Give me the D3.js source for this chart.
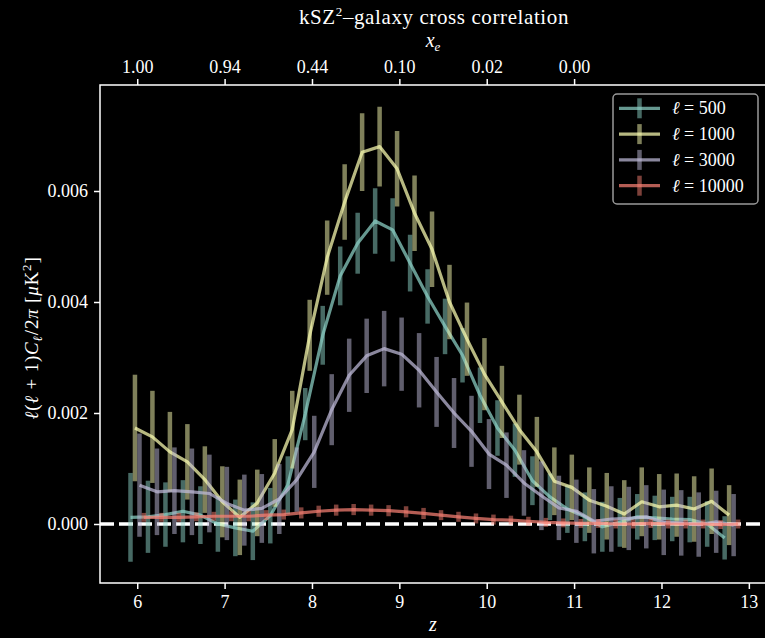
<!DOCTYPE html>
<html><head><meta charset="utf-8">
<script src="https://cdn.jsdelivr.net/npm/d3@7"></script>
<style>
html,body{margin:0;padding:0;background:#000;}
svg{display:block;}
text{font-family:"Liberation Serif","DejaVu Serif",serif;fill:#fff;}
</style></head><body>
<svg id="c" width="765" height="638"></svg>
<script>
// ---- data ----
const zCenters = d3.range(35).map(i => +(6 + 0.2 * i).toFixed(1));
const seriesNames = ["ℓ = 500", "ℓ = 1000", "ℓ = 3000", "ℓ = 10000"];
const seriesOffsets = [-0.077, -0.026, 0.026, 0.077];
const seriesColors = ["#8dd3c7", "#feffb3", "#bfbbd9", "#fa8174"];

const val500 = [0.00012,0.00013,0.00017,0.00023,0.00016,0.00000,-0.00007,-0.00013,0.00015,0.00070,
  0.00198,0.00340,0.00447,0.00506,0.00546,0.00530,0.00470,0.00410,0.00356,0.00304,
  0.00232,0.00173,0.00133,0.00078,0.00049,0.00027,0.00013,-0.00005,0.00003,0.00013,
  0.00011,0.00009,0.00008,0.00000,-0.00025];
const err500 = [0.00080,0.00065,0.00058,0.00056,0.00052,0.00050,0.00051,0.00052,0.00050,0.00052,
  0.00047,0.00053,0.00053,0.00055,0.00059,0.00057,0.00051,0.00049,0.00050,0.00049,
  0.00050,0.00050,0.00048,0.00044,0.00042,0.00043,0.00044,0.00045,0.00044,0.00041,
  0.00040,0.00040,0.00041,0.00041,0.00039];

const val1000 = [0.00173,0.00157,0.00130,0.00112,0.00080,0.00040,0.00012,0.00038,0.00092,0.00170,
  0.00340,0.00480,0.00580,0.00670,0.00680,0.00640,0.00560,0.00495,0.00400,0.00333,
  0.00270,0.00220,0.00170,0.00130,0.00077,0.00066,0.00043,0.00032,0.00018,0.00040,
  0.00031,0.00034,0.00027,0.00041,0.00016];
const err1000 = [0.00096,0.00083,0.00072,0.00068,0.00060,0.00064,0.00068,0.00060,0.00061,0.00070,
  0.00064,0.00067,0.00068,0.00070,0.00072,0.00068,0.00068,0.00068,0.00067,0.00066,
  0.00065,0.00065,0.00063,0.00063,0.00061,0.00059,0.00059,0.00060,0.00061,0.00062,
  0.00059,0.00057,0.00059,0.00059,0.00054];

const val3000 = [0.00070,0.00058,0.00060,0.00058,0.00055,0.00037,0.00025,0.00028,0.00045,0.00080,
  0.00130,0.00206,0.00268,0.00303,0.00316,0.00306,0.00277,0.00238,0.00200,0.00167,
  0.00126,0.00106,0.00074,0.00051,0.00029,0.00023,0.00005,0.00009,0.00010,0.00013,
  0.00003,0.00002,-0.00001,0.00004,-0.00002];
const err3000 = [0.00093,0.00078,0.00078,0.00078,0.00070,0.00066,0.00064,0.00062,0.00063,0.00058,
  0.00065,0.00064,0.00066,0.00067,0.00068,0.00066,0.00067,0.00063,0.00063,0.00064,
  0.00063,0.00059,0.00059,0.00062,0.00058,0.00057,0.00058,0.00059,0.00057,0.00057,
  0.00059,0.00059,0.00058,0.00056,0.00056];

const val10000 = [0.00012,0.00012,0.00012,0.00013,0.00014,0.00014,0.00014,0.00016,0.00017,0.00020,
  0.00023,0.00025,0.00026,0.00025,0.00024,0.00022,0.00019,0.00016,0.00013,0.00010,
  0.00008,0.00007,0.00005,0.00003,0.00002,0.00001,0.00001,0.00000,0.00000,0.00001,
  0.00000,0.00000,0.00000,-0.00001,0.00000];
const err10000 = [0.00008,0.00008,0.00008,0.00008,0.00008,0.00009,0.00009,0.00009,0.00009,0.00010,
  0.00010,0.00010,0.00010,0.00010,0.00010,0.00010,0.00010,0.00009,0.00009,0.00009,
  0.00009,0.00008,0.00008,0.00008,0.00008,0.00008,0.00008,0.00008,0.00008,0.00008,
  0.00008,0.00008,0.00008,0.00008,0.00008];

const yTicks = [0.000, 0.002, 0.004, 0.006];
const xTicks = [6, 7, 8, 9, 10, 11, 12, 13];
const topTicks = [6, 7, 8, 9, 10, 11];
const topLabels = ["1.00", "0.94", "0.44", "0.10", "0.02", "0.00"];

const allVals = [val500, val1000, val3000, val10000];
const allErrs = [err500, err1000, err3000, err10000];

// ---- layout ----
const svg = d3.select("#c");
const L = 100, R = 768.6, T = 85, B = 583;
const x = d3.scaleLinear().domain([5.574, 13.226]).range([L, R]);
const y = d3.scaleLinear().domain([-0.001063, 0.00791]).range([B, T]);

svg.append("rect").attr("width", 765).attr("height", 638).attr("fill", "#000");

svg.append("clipPath").attr("id", "pc").append("rect")
  .attr("x", L).attr("y", T).attr("width", R - L).attr("height", B - T);
const plot = svg.append("g").attr("clip-path", "url(#pc)");

// zero line
plot.append("line").attr("x1", L).attr("x2", R).attr("y1", y(0)).attr("y2", y(0))
  .attr("stroke", "#fff").attr("stroke-width", 3.5).attr("stroke-dasharray", "14,5");

const barAlpha = 0.5, lineAlpha = 0.72;
allVals.forEach((vals, s) => {
  const g = plot.append("g");
  const pts = zCenters.map((z, i) => ({z: z + seriesOffsets[s], v: vals[i], e: allErrs[s][i]}));
  g.selectAll("line.eb").data(pts).join("line").attr("class", "eb")
    .attr("x1", d => x(d.z)).attr("x2", d => x(d.z))
    .attr("y1", d => y(d.v - d.e)).attr("y2", d => y(d.v + d.e))
    .attr("stroke", seriesColors[s]).attr("stroke-opacity", barAlpha).attr("stroke-width", 4.5);
  g.append("path").datum(pts)
    .attr("d", d3.line().x(d => x(d.z)).y(d => y(d.v)))
    .attr("fill", "none").attr("stroke", seriesColors[s]).attr("stroke-opacity", lineAlpha)
    .attr("stroke-width", 3.2).attr("stroke-linejoin", "round");
});

// frame
svg.append("path").attr("d", `M${R},${T}H${L}V${B}H${R}`)
  .attr("fill", "none").attr("stroke", "#fff").attr("stroke-width", 1.5);

// axes
const fs = 18;
const xAxis = svg.append("g").attr("transform", `translate(0,${B})`)
  .call(d3.axisBottom(x).tickValues(xTicks).tickFormat(d3.format("d")).tickSize(6).tickPadding(6));
const yAxis = svg.append("g").attr("transform", `translate(${L},0)`)
  .call(d3.axisLeft(y).tickValues(yTicks).tickFormat(d3.format(".3f")).tickSize(6).tickPadding(6));
const tAxis = svg.append("g").attr("transform", `translate(0,${T})`)
  .call(d3.axisTop(x).tickValues(topTicks).tickFormat((d, i) => topLabels[i]).tickSize(6).tickPadding(6));
[xAxis, yAxis, tAxis].forEach(a => {
  a.select(".domain").remove();
  a.selectAll(".tick line").attr("stroke", "#fff").attr("stroke-width", 1.5);
  a.selectAll(".tick text").attr("fill", "#fff").attr("font-size", fs)
    .style("font-family", '"Liberation Serif", serif');
});

// labels
svg.append("text").attr("x", 434).attr("y", 24).attr("text-anchor", "middle").attr("font-size", 21)
  .attr("letter-spacing", 0.6)
  .html('kSZ<tspan dy="-8" font-size="13">2</tspan><tspan dy="8">–galaxy cross correlation</tspan>');
svg.append("text").attr("x", 433).attr("y", 47).attr("text-anchor", "middle").attr("font-size", 20)
  .html('<tspan font-style="italic">x</tspan><tspan dy="4" font-size="13" font-style="italic">e</tspan>');
svg.append("text").attr("x", 433).attr("y", 631).attr("text-anchor", "middle").attr("font-size", 20)
  .attr("font-style", "italic").text("z");
svg.append("text").attr("transform", "translate(38,338) rotate(-90)").attr("text-anchor", "middle").attr("font-size", 19)
  .attr("letter-spacing", 0.8)
  .html('<tspan font-style="italic">ℓ</tspan>(<tspan font-style="italic">ℓ</tspan> + 1)<tspan font-style="italic">C</tspan><tspan dy="4" font-size="13" font-style="italic">ℓ</tspan><tspan dy="-4">/2</tspan><tspan font-style="italic">π</tspan> [<tspan font-style="italic">μ</tspan>K<tspan dy="-7" font-size="13">2</tspan><tspan dy="7">]</tspan>');

// legend
const lg = svg.append("g");
lg.append("rect").attr("x", 613).attr("y", 94).attr("width", 145).attr("height", 110).attr("rx", 4)
  .attr("fill", "#000").attr("stroke", "#999").attr("stroke-width", 1.5);
seriesNames.forEach((name, s) => {
  const cy = 108.3 + s * 25.8;
  lg.append("line").attr("x1", 619).attr("x2", 660).attr("y1", cy).attr("y2", cy)
    .attr("stroke", seriesColors[s]).attr("stroke-opacity", lineAlpha).attr("stroke-width", 3.2);
  lg.append("line").attr("x1", 639.5).attr("x2", 639.5).attr("y1", cy - 10).attr("y2", cy + 10)
    .attr("stroke", seriesColors[s]).attr("stroke-opacity", barAlpha).attr("stroke-width", 4.5);
  const parts = name.split(" = ");
  lg.append("text").attr("x", 672).attr("y", cy + 6).attr("font-size", 18)
    .html(`<tspan font-style="italic">${parts[0]}</tspan> = ${parts[1]}`);
});
</script>
</body></html>
